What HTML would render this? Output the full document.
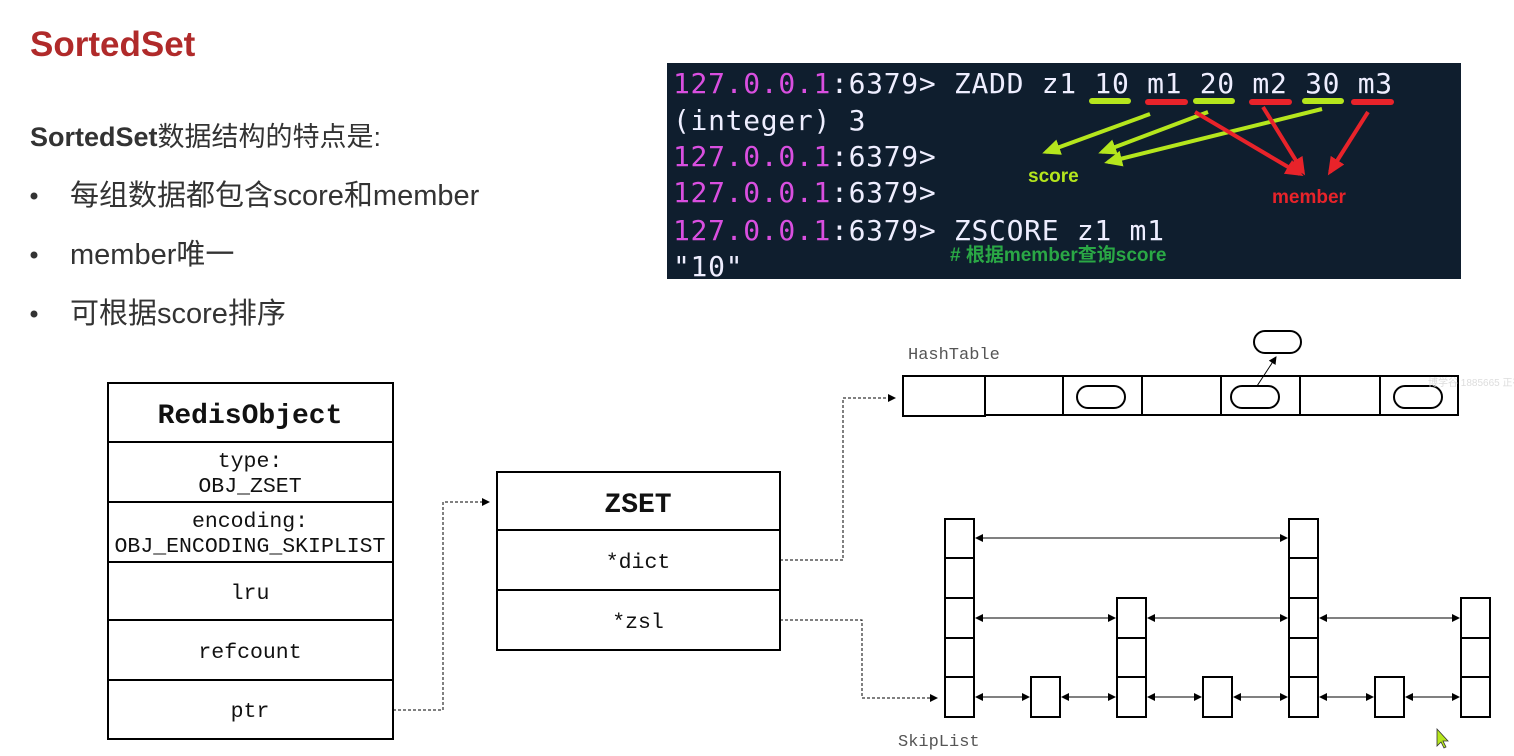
<!DOCTYPE html>
<html><head><meta charset="utf-8"><style>
body{margin:0;background:#fff;width:1514px;height:756px;overflow:hidden}
svg{display:block}
</style></head><body>
<svg width="1514" height="756" xmlns="http://www.w3.org/2000/svg">
<defs>
<marker id="a" markerWidth="8" markerHeight="8" refX="7" refY="4" orient="auto" markerUnits="userSpaceOnUse"><path d="M0,0 L8,4 L0,8 z" fill="#000"/></marker>
<marker id="as" markerWidth="8" markerHeight="8" refX="1" refY="4" orient="auto" markerUnits="userSpaceOnUse"><path d="M8,0 L0,4 L8,8 z" fill="#000"/></marker>
<marker id="g" markerWidth="18" markerHeight="16" refX="14" refY="8" orient="auto" markerUnits="userSpaceOnUse"><path d="M0,0 L18,8 L0,16 z" fill="#b5e61d"/></marker>
<marker id="r" markerWidth="18" markerHeight="16" refX="14" refY="8" orient="auto" markerUnits="userSpaceOnUse"><path d="M0,0 L18,8 L0,16 z" fill="#e8232a"/></marker>
</defs>
<g font-family="'Liberation Sans','Noto Sans CJK SC',sans-serif">
<text x="30" y="56" font-size="35" font-weight="bold" fill="#b02a2a">SortedSet</text>
<text x="30" y="146" font-size="27" fill="#333"><tspan font-weight="bold">SortedSet</tspan>数据结构的特点是:</text>
<g font-size="29" fill="#333">
<circle cx="34" cy="196" r="3.5" fill="#333"/><text x="70" y="205">每组数据都包含score和member</text>
<circle cx="34" cy="255" r="3.5" fill="#333"/><text x="70" y="264">member唯一</text>
<circle cx="34" cy="314" r="3.5" fill="#333"/><text x="70" y="323">可根据score排序</text>
</g>
</g>
<rect x="667" y="63" width="794" height="216" fill="#0f1e2e"/>
<g font-family="'DejaVu Sans Mono','Liberation Mono',monospace" font-size="28" fill="#eef" letter-spacing="0.7">
<text x="673" y="93"><tspan fill="#d94fe0">127.0.0.1</tspan>:6379&gt; ZADD z1 10 m1 20 m2 30 m3</text>
<text x="673" y="130">(integer) 3</text>
<text x="673" y="166"><tspan fill="#d94fe0">127.0.0.1</tspan>:6379&gt;</text>
<text x="673" y="202"><tspan fill="#d94fe0">127.0.0.1</tspan>:6379&gt;</text>
<text x="673" y="240"><tspan fill="#d94fe0">127.0.0.1</tspan>:6379&gt; ZSCORE z1 m1</text>
<text x="673" y="276">"10"</text>
</g>
<g stroke-width="6" stroke-linecap="round">
<line x1="1092" y1="101" x2="1128" y2="101" stroke="#b5e61d"/>
<line x1="1148" y1="102" x2="1185" y2="102" stroke="#e8232a"/>
<line x1="1196" y1="101" x2="1232" y2="101" stroke="#b5e61d"/>
<line x1="1252" y1="102" x2="1289" y2="102" stroke="#e8232a"/>
<line x1="1305" y1="101" x2="1341" y2="101" stroke="#b5e61d"/>
<line x1="1354" y1="102" x2="1391" y2="102" stroke="#e8232a"/>
</g>
<g stroke-width="4">
<line x1="1150" y1="114" x2="1046" y2="152" stroke="#b5e61d" marker-end="url(#g)"/>
<line x1="1208" y1="112" x2="1102" y2="152" stroke="#b5e61d" marker-end="url(#g)"/>
<line x1="1322" y1="109" x2="1108" y2="162" stroke="#b5e61d" marker-end="url(#g)"/>
<line x1="1195" y1="112" x2="1300" y2="174" stroke="#e8232a" marker-end="url(#r)"/>
<line x1="1263" y1="107" x2="1303" y2="172" stroke="#e8232a" marker-end="url(#r)"/>
<line x1="1368" y1="112" x2="1330" y2="172" stroke="#e8232a" marker-end="url(#r)"/>
</g>
<g font-family="'Liberation Sans','Noto Sans CJK SC',sans-serif" font-weight="bold">
<text x="1028" y="182" font-size="19" fill="#b5e61d">score</text>
<text x="1272" y="203" font-size="19" fill="#e8232a">member</text>
<text x="950" y="261" font-size="19" fill="#2aa845"># 根据member查询score</text>
</g>
<g fill="#fff" stroke="#000" stroke-width="2">
<rect x="108" y="383" width="285" height="356"/>
<line x1="108" y1="442" x2="393" y2="442"/><line x1="108" y1="502" x2="393" y2="502"/>
<line x1="108" y1="562" x2="393" y2="562"/><line x1="108" y1="620" x2="393" y2="620"/>
<line x1="108" y1="680" x2="393" y2="680"/>
<rect x="497" y="472" width="283" height="178"/>
<line x1="497" y1="530" x2="780" y2="530"/><line x1="497" y1="590" x2="780" y2="590"/>
</g>
<g font-family="'Liberation Mono','DejaVu Sans Mono',monospace" font-size="21.5" fill="#111" text-anchor="middle">
<text x="250" y="423" font-size="28" font-weight="bold">RedisObject</text>
<text x="250" y="467">type:</text><text x="250" y="492">OBJ_ZSET</text>
<text x="250" y="527">encoding:</text><text x="250" y="552">OBJ_ENCODING_SKIPLIST</text>
<text x="250" y="599">lru</text><text x="250" y="658">refcount</text><text x="250" y="717">ptr</text>
<text x="638" y="512" font-size="28" font-weight="bold">ZSET</text>
<text x="638" y="568">*dict</text><text x="638" y="628">*zsl</text>
<text x="908" y="359" font-size="17" fill="#555" text-anchor="start">HashTable</text>
<text x="898" y="746" font-size="17" fill="#555" text-anchor="start">SkipList</text>
</g>
<g fill="none" stroke="#000" stroke-width="1" stroke-dasharray="3,2">
<polyline points="393,710 443,710 443,502 489,502" marker-end="url(#a)"/>
<polyline points="780,560 843,560 843,398 895,398" marker-end="url(#a)"/>
<polyline points="780,620 862,620 862,698 937,698" marker-end="url(#a)"/>
</g>
<g fill="#fff" stroke="#000" stroke-width="2">
<rect x="903" y="376" width="82" height="40"/>
<rect x="985" y="376" width="473" height="39"/>
<line x1="1063" y1="376" x2="1063" y2="415"/><line x1="1142" y1="376" x2="1142" y2="415"/>
<line x1="1221" y1="376" x2="1221" y2="415"/><line x1="1300" y1="376" x2="1300" y2="415"/>
<line x1="1380" y1="376" x2="1380" y2="415"/>
<rect x="1077" y="386" width="48" height="22" rx="11"/>
<rect x="1231" y="386" width="48" height="22" rx="11"/>
<rect x="1394" y="386" width="48" height="22" rx="11"/>
<rect x="1254" y="331" width="47" height="22" rx="11"/>
</g>
<line x1="1257" y1="386" x2="1276" y2="357" stroke="#000" stroke-width="1" marker-end="url(#a)"/>
<g fill="#fff" stroke="#000" stroke-width="2">
<rect x="945" y="519" width="29" height="198"/>
<line x1="945" y1="558" x2="974" y2="558"/><line x1="945" y1="598" x2="974" y2="598"/><line x1="945" y1="638" x2="974" y2="638"/><line x1="945" y1="677" x2="974" y2="677"/>
<rect x="1289" y="519" width="29" height="198"/>
<line x1="1289" y1="558" x2="1318" y2="558"/><line x1="1289" y1="598" x2="1318" y2="598"/><line x1="1289" y1="638" x2="1318" y2="638"/><line x1="1289" y1="677" x2="1318" y2="677"/>
<rect x="1117" y="598" width="29" height="119"/>
<line x1="1117" y1="638" x2="1146" y2="638"/><line x1="1117" y1="677" x2="1146" y2="677"/>
<rect x="1461" y="598" width="29" height="119"/>
<line x1="1461" y1="638" x2="1490" y2="638"/><line x1="1461" y1="677" x2="1490" y2="677"/>
<rect x="1031" y="677" width="29" height="40"/>
<rect x="1203" y="677" width="29" height="40"/>
<rect x="1375" y="677" width="29" height="40"/>
</g>
<g stroke="#000" stroke-width="1" marker-end="url(#a)" marker-start="url(#as)">
<line x1="976" y1="538" x2="1287" y2="538"/>
<line x1="976" y1="618" x2="1115" y2="618"/><line x1="1148" y1="618" x2="1287" y2="618"/><line x1="1320" y1="618" x2="1459" y2="618"/>
<line x1="976" y1="697" x2="1029" y2="697"/><line x1="1062" y1="697" x2="1115" y2="697"/>
<line x1="1148" y1="697" x2="1201" y2="697"/><line x1="1234" y1="697" x2="1287" y2="697"/>
<line x1="1320" y1="697" x2="1373" y2="697"/><line x1="1406" y1="697" x2="1459" y2="697"/>
</g>
<text x="1428" y="386" font-family="'Liberation Sans','Noto Sans CJK SC',sans-serif" font-size="10" fill="#ddd">博学谷 1885665 正在观看</text>
<path d="M1437,729 L1437,746 L1441,742 L1444,748 L1446,747 L1443,741 L1448,741 z" fill="#b5e61d" stroke="#333" stroke-width="0.8"/>
</svg>
</body></html>
